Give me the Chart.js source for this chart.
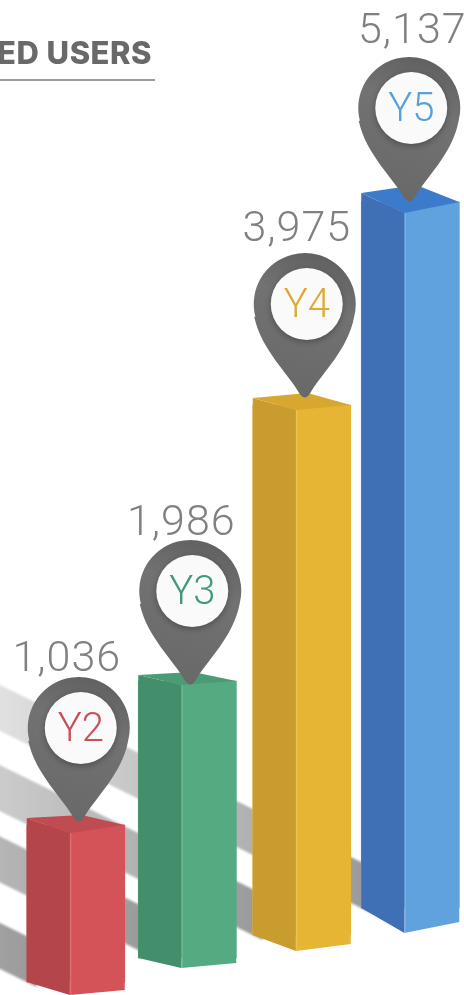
<!DOCTYPE html>
<html>
<head>
<meta charset="utf-8">
<title>Users</title>
<script src="https://cdn.jsdelivr.net/npm/chart.js@4"></script>
<style>
  html, body { margin: 0; padding: 0; background: #fff; overflow: hidden; }
  #wrap { width: 464px; height: 995px; overflow: hidden; }
  canvas { display: block; }
</style>
</head>
<body>
<div id="wrap"><canvas id="myChart" width="466" height="995"></canvas></div>
<script>
const categories = ['Y2', 'Y3', 'Y4', 'Y5'];
const userValues = [1036, 1986, 3975, 5137];
// where the drawn columns start and end on the y axis
const barLows = [94, 266, 432, 626];
const barHighs = [1223, 2259, 4244, 5705];
const titleText = 'ED USERS';

const rightColors = ['#d35358', '#55aa82', '#e6b534', '#5fa2de'];
const leftColors = ['#b4464b', '#438f6c', '#c99c2f', '#3f6fb4'];
const topColors = ['#c04b50', '#4b9c76', '#d8a72f', '#3c7bcb'];
const textColors = ['#c8505a', '#3f9a78', '#dcaa35', '#5a9fd8'];

// per column drawing offsets, pixels
const barNudge = [0, 0, 3, 0];
const capLeft = [7, 6, 7, 9];
const capFront = [8, 4, 5, 11];
const capBack = [10, 9, 12, 17];
const footFront = [13, 10, 16, 25];
const footRight = [8, 5, 9, 14];
const shadowLift = [0, 8, 0, 0];
const tipShift = [3, 3, 3, -1];
const tipDrop = [-3, 4, -7, 0];
const labelShift = [-9, -6, -5, 2];
const labelRise = [6, 5, 12, 14];

function polygon(c, points, fill) {
    c.beginPath();
    points.forEach((p, i) => i ? c.lineTo(p[0], p[1]) : c.moveTo(p[0], p[1]));
    c.closePath();
    c.fillStyle = fill;
    c.fill();
}

function drawPin(c, x, tipY, i) {
    const headY = tipY - 94;
    const r = 51;
    c.save();
    const grad = c.createLinearGradient(x + 30, headY - 50, x - 20, tipY);
    grad.addColorStop(0, '#5f5f5f');
    grad.addColorStop(0.35, '#727272');
    grad.addColorStop(1, '#686868');
    c.beginPath();
    c.arc(x, headY, r, Math.PI * 0.92, Math.PI * 0.08, false);
    c.bezierCurveTo(x + r * 0.85, headY + 46, x + 16, tipY - 24, x + 5, tipY - 4);
    c.quadraticCurveTo(x, tipY + 3, x - 5, tipY - 4);
    c.bezierCurveTo(x - 16, tipY - 24, x - r * 0.85, headY + 46, x - r * 0.99, headY + 13);
    c.closePath();
    c.fillStyle = grad;
    c.fill();

    c.shadowColor = 'rgba(0,0,0,0.3)';
    c.shadowBlur = 6;
    c.shadowOffsetY = 2;
    c.beginPath();
    c.arc(x + 2, headY, 36, 0, Math.PI * 2);
    c.fillStyle = '#fafafa';
    c.fill();
    c.restore();

    c.fillStyle = textColors[i];
    c.font = '300 40px Roboto';
    c.textAlign = 'center';
    c.textBaseline = 'middle';
    c.fillText(categories[i], x + 2, headY + 3);

    c.fillStyle = '#808080';
    c.font = '300 43px Roboto';
    c.letterSpacing = '1px';
    c.textBaseline = 'alphabetic';
    c.fillText(userValues[i].toLocaleString('en-US'), x + labelShift[i] - tipShift[i], headY - r - labelRise[i]);
    c.letterSpacing = '0px';
}

const columnPlugin = {
    id: 'columnPlugin',
    afterDatasetsUpdate(chart) {
        chart.getDatasetMeta(0).data.forEach((bar, i) => { bar.x += barNudge[i]; });
    },
    beforeDatasetsDraw(chart) {
        const c = chart.ctx;
        c.save();
        // title and its rule
        c.fillStyle = '#696969';
        c.font = '800 31px Inter';
        c.letterSpacing = '0.5px';
        c.textAlign = 'right';
        c.textBaseline = 'alphabetic';
        c.fillText(titleText, 152, 64);
        c.letterSpacing = '0px';
        c.fillStyle = '#9c9c9c';
        c.fillRect(0, 79, 155, 2);

        // cast shadows running to the upper left
        const slope = 0.49;
        chart.getDatasetMeta(0).data.forEach((bar, i) => {
            const left = bar.x - bar.width / 2;
            const y = bar.base - shadowLift[i];
            const far = left - 520;
            const grad = c.createLinearGradient(left + 10, 0, far, 0);
            grad.addColorStop(0, 'rgba(70,70,70,0.55)');
            grad.addColorStop(1, 'rgba(70,70,70,0)');
            c.save();
            c.filter = 'blur(1px)';
            polygon(c, [
                [left + 10, y - 46 + 5],
                [left + 10, y + 5],
                [far, y - (left - far) * slope],
                [far, y - 46 - (left - far) * slope]
            ], grad);
            c.restore();
        });
        c.restore();
    },
    afterDatasetsDraw(chart) {
        const c = chart.ctx;
        const bars = chart.getDatasetMeta(0).data;
        bars.forEach((bar, i) => {
            const left = bar.x - bar.width / 2;
            const right = bar.x + bar.width / 2;
            const ridge = left + bar.width * 0.44;
            const top = bar.y;
            const base = bar.base;
            polygon(c, [[ridge, top + capFront[i]], [right, top], [right, base + footRight[i]], [ridge, base + footFront[i]]], rightColors[i]);
            polygon(c, [[left, top - capLeft[i]], [ridge, top + capFront[i]], [ridge, base + footFront[i]], [left, base]], leftColors[i]);
            polygon(c, [[left, top - capLeft[i]], [left + right - ridge, top - capBack[i]], [right, top], [ridge, top + capFront[i]]], topColors[i]);
            // soft light along the front edge
            polygon(c, [[ridge, top + capFront[i]], [ridge + 1.5, top + capFront[i]], [ridge + 1.5, base + footFront[i]], [ridge, base + footFront[i]]], 'rgba(255,255,255,0.16)');
        });
        bars.forEach((bar, i) => drawPin(c, bar.x + tipShift[i], bar.y + tipDrop[i], i));
    }
};

new Chart(document.getElementById('myChart'), {
    type: 'bar',
    data: {
        labels: categories,
        datasets: [{
            label: 'Users',
            data: barLows.map((low, i) => [low, barHighs[i]]),
            backgroundColor: rightColors,
            barThickness: 98
        }]
    },
    options: {
        responsive: false,
        animation: false,
        layout: { padding: { left: 20, right: 0, top: 0, bottom: 0 } },
        plugins: { legend: { display: false }, tooltip: { enabled: false } },
        scales: {
            x: { display: false },
            y: { display: false, min: 0, max: 7158 }
        }
    },
    plugins: [columnPlugin]
});
</script>
</body>
</html>
